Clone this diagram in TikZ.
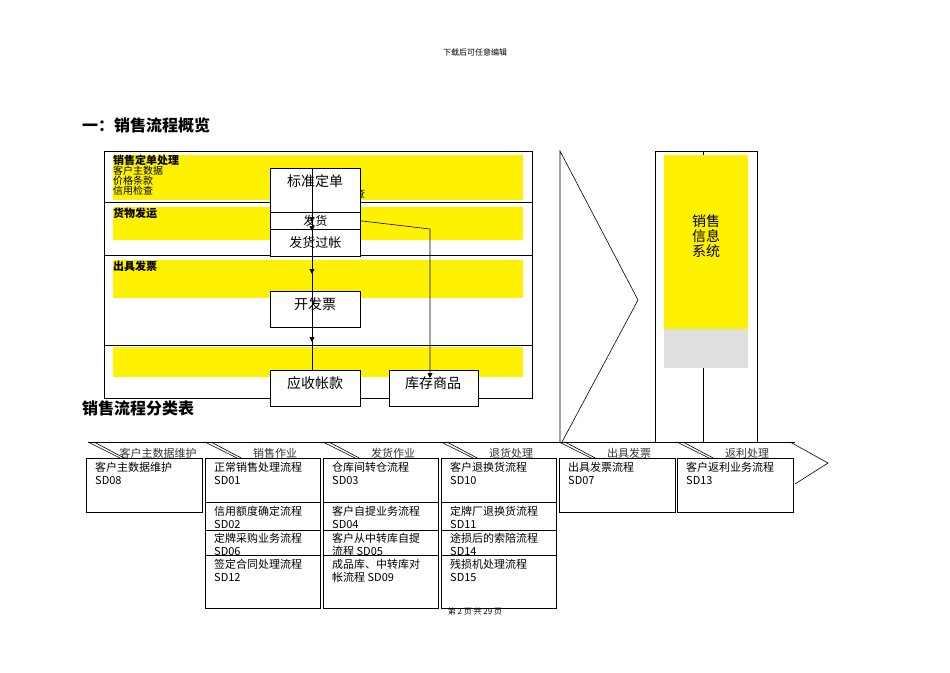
\documentclass[tikz,border=0pt]{standalone}
\usepackage{fontspec}
\setmainfont{Noto Sans CJK SC}
\usetikzlibrary{arrows.meta}
\begin{document}
\begin{tikzpicture}[x=1pt,y=-1pt,
  box/.style={draw,fill=white,line width=0.6pt},
  yel/.style={fill=yellow,draw=none},
  lab/.style={anchor=north west,inner sep=0pt,font=\fontsize{11}{12}\selectfont,align=left},
  small/.style={anchor=north west,inner sep=0pt,font=\fontsize{10}{10}\selectfont,align=left},
  big/.style={font=\fontsize{14}{15}\selectfont,inner sep=0pt},
  arr/.style={-{Triangle[length=5pt,width=5pt]},line width=0.6pt},
  ln/.style={line width=0.6pt}]
\useasboundingbox (0,0) rectangle (950,672);
\node[font=\fontsize{8}{9}\selectfont] (hd) at (475,52) {下载后可任意编辑};
\node[anchor=west,font=\bfseries\fontsize{16}{17}\selectfont,inner sep=0pt] (t1) at (82,125) {一：销售流程概览};
% top section
\draw[ln] (104,151) rectangle (532,398);
\fill[yel] (113,155) rectangle (523,200);
\fill[yel] (113,207) rectangle (523,240);
\fill[yel] (113,260) rectangle (523,298);
\fill[yel] (113,347) rectangle (523,377);
\draw[ln] (104,202) -- (532,202);
\draw[ln] (104,255) -- (532,255);
\draw[ln] (104,345) -- (532,345);
\node[lab,font=\bfseries\fontsize{11}{12}\selectfont] (s1) at (113,155) {销售定单处理};
\node[small] (s1b) at (113,166) {客户主数据\\价格条款\\信用检查};
\node[small] (s1c) at (355,189) {查};
\node[lab,font=\bfseries\fontsize{11}{12}\selectfont] (s2) at (113,208) {货物发运};
\node[lab,font=\bfseries\fontsize{11}{12}\selectfont] (s3) at (113,261) {出具发票};
\node[box,minimum width=90pt,minimum height=44pt,anchor=north west,inner sep=0pt] (b1) at (270,168) {};
\node[big] at (315,181) {标准定单};
\node[box,minimum width=90pt,minimum height=17pt,anchor=north west,inner sep=0pt,font=\fontsize{12}{12}\selectfont] (b2) at (270,212) {发货};
\node[box,minimum width=90pt,minimum height=27pt,anchor=north west,inner sep=0pt,font=\fontsize{13}{13}\selectfont] (b3) at (270,229) {发货过帐};
\node[box,minimum width=90pt,minimum height=36pt,anchor=north west,inner sep=0pt] (b4) at (270,291) {};
\node[big] at (315,304) {开发票};
\node[box,minimum width=90pt,minimum height=36pt,anchor=north west,inner sep=0pt] (b5) at (270,370) {};
\node[big] at (315,383) {应收帐款};
\node[box,minimum width=89pt,minimum height=36pt,anchor=north west,inner sep=0pt] (b6) at (389,370) {};
\node[big] at (433,383) {库存商品};
\draw[ln] (312,168) -- (312,370);
\foreach \y in {222,231,274,342} \draw[arr] (312,\y-8) -- (312,\y);
\draw[arr] (b2.east) -- (430,229) -- (430,378);
% chevron
\draw[ln] (560,442) -- (560,151) -- (638,300) -- (562,442);
% system panel
\draw[ln] (655,442) -- (655,151) -- (703,151) -- (703,442);
\fill[yel] (664,155) rectangle (748,329);
\fill[gray!25] (664,329) rectangle (748,368);
\draw[ln] (655,151) -- (757,151) -- (757,442);
\node[font=\fontsize{14}{15}\selectfont,align=center,inner sep=0pt] (sys) at (706,236) {销售\\信息\\系统};
% classification
\node[anchor=west,font=\bfseries\fontsize{16}{17}\selectfont,inner sep=0pt] (t2) at (82,408) {销售流程分类表};
\foreach \x/\t in {88/客户主数据维护,205/销售作业,323/发货作业,441/退货处理,559/出具发票,677/返利处理}{
  \draw[ln] (\x,442) -- (\x+118,442);
  \draw[ln] (\x,442) -- (\x+40,462);
  \draw[ln] (\x+6,442) -- (\x+40,460);
  \node[font=\fontsize{11}{12}\selectfont,inner sep=0pt,text=black!80] at (\x+70,453) {\t};
}
\draw[ln] (790,442) -- (828,463) -- (795,484);
\tikzset{cell/.style={box,anchor=north west,inner sep=0pt}}
\foreach \x/\a in {86/{客户主数据维护\\SD08},559/{出具发票流程\\SD07},677/{客户返利业务流程\\SD13}}{
  \draw[ln,fill=white] (\x,458) rectangle (\x+116,512);
  \node[lab,font=\fontsize{11}{13}\selectfont] at (\x+9,462) {\a};
}
\foreach \x/\a/\b/\c/\d in {205/{正常销售处理流程\\SD01}/{信用额度确定流程\\SD02}/{定牌采购业务流程\\SD06}/{签定合同处理流程\\SD12},
 323/{仓库间转仓流程\\SD03}/{客户自提业务流程\\SD04}/{客户从中转库自提\\流程 SD05}/{成品库、中转库对\\帐流程 SD09},
 441/{客户退换货流程\\SD10}/{定牌厂退换货流程\\SD11}/{途损后的索陪流程\\SD14}/{残损机处理流程\\SD15}}{
  \draw[ln,fill=white] (\x,458) rectangle (\x+115,608);
  \node[lab,font=\fontsize{11}{13}\selectfont] at (\x+9,462) {\a};
  \begin{scope}
  \clip (\x,458) rectangle (\x+115,608);
  \node[lab,font=\fontsize{11}{13}\selectfont] at (\x+9,506) {\b};
  \node[lab,font=\fontsize{11}{13}\selectfont] at (\x+9,533) {\c};
  \node[lab,font=\fontsize{11}{13}\selectfont] at (\x+9,559) {\d};
  \end{scope}
  \draw[ln] (\x,502) -- (\x+115,502);
  \draw[ln] (\x,530) -- (\x+115,530);
  \draw[ln] (\x,555) -- (\x+115,555);
}
\node[font=\fontsize{8}{9}\selectfont] (ft) at (475,611) {第 2 页 共 29 页};
\end{tikzpicture}
\end{document}
